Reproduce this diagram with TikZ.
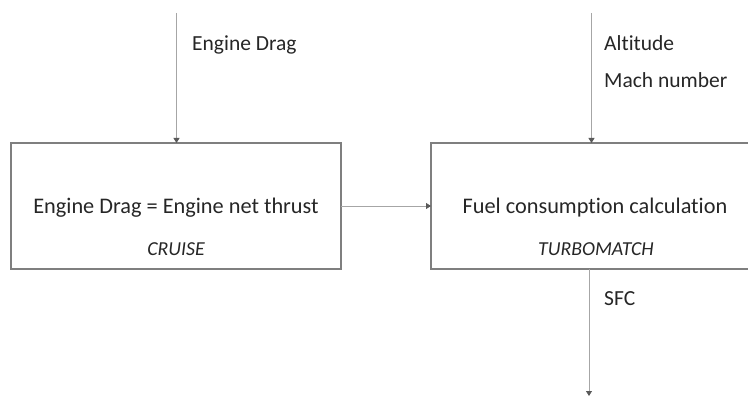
\documentclass[tikz,border=0pt]{standalone}
\usepackage{fontspec}
\setmainfont[RawFeature={-liga;-clig;-calt;-dlig}]{Carlito}
\usetikzlibrary{arrows.meta}
\definecolor{boxline}{HTML}{7F7F7F}
\definecolor{flowline}{HTML}{A6A6A6}
\definecolor{inktext}{HTML}{262626}
\begin{document}
\begin{tikzpicture}[x=1pt,y=-1pt,
  blockbox/.style={draw=boxline,line width=1.2pt,inner sep=0pt},
  flow/.style={draw=flowline,line width=0.9pt,
    -{Triangle[length=5pt,width=6pt,fill=black!65,color=black!65]}},
  lbl/.style={anchor=base west,inner sep=0pt,text=inktext,font=\fontsize{21.5}{25}\selectfont},
  maintext/.style={anchor=base,inner sep=0pt,text=inktext,font=\fontsize{22.3}{26}\selectfont},
  subtext/.style={anchor=base,inner sep=0pt,text=inktext,font=\fontsize{19.8}{23}\selectfont\itshape}]
\useasboundingbox (0,0) rectangle (748,396);
\clip (0,0) rectangle (748,396);
% blocks
\path[blockbox] (11,143) rectangle (341,269);
\path[blockbox] (431,143) rectangle (761,269);
\coordinate (cruiseTop) at (176.5,143);
\coordinate (cruiseRight) at (341,206);
\coordinate (tmTop) at (591.5,143);
\coordinate (tmLeft) at (431,206);
\coordinate (tmBottom) at (589,269);
\node[maintext] (cruiseMain) at (176,213) {Engine Drag = Engine net thrust};
\node[subtext] (cruiseSub) at (176,255) {CRUISE};
\node[maintext] (tmMain) at (595,213) {Fuel consumption calculation};
\node[subtext] (tmSub) at (596,255) {TURBOMATCH};
% inputs and outputs
\coordinate (dragIn) at (176.5,13);
\coordinate (flightIn) at (591.5,13);
\coordinate (sfcOut) at (589,396);
\draw[flow] (dragIn) -- (cruiseTop);
\draw[flow] (flightIn) -- (tmTop);
\draw[flow] (cruiseRight) -- (tmLeft);
\draw[flow] (tmBottom) -- (sfcOut);
\node[lbl] (dragLbl) at (192,51) {Engine Drag};
\node[lbl] (altLbl) at (604,50.5) {Altitude};
\node[lbl] (machLbl) at (604,87.5) {Mach number};
\node[lbl] (sfcLbl) at (604,305) {SFC};
\end{tikzpicture}
\end{document}
